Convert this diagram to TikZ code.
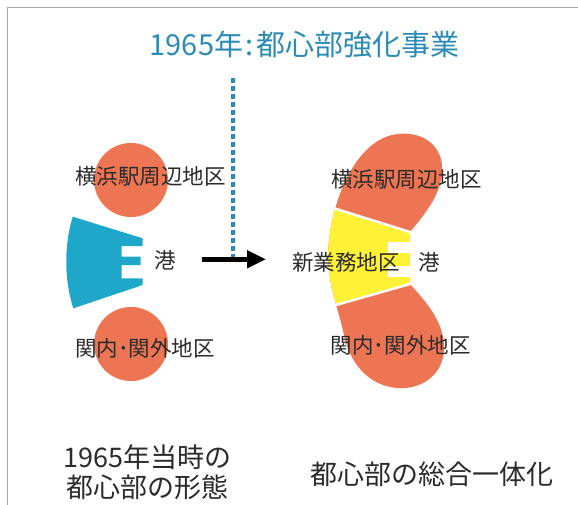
\documentclass[tikz,border=0pt]{standalone}
\usepackage{fontspec}
\setmainfont{Noto Sans CJK JP}
\usetikzlibrary{arrows.meta}
\definecolor{orng}{HTML}{EE7553}
\definecolor{portblue}{HTML}{1EA7C8}
\definecolor{titleblue}{HTML}{2B8BB4}
\definecolor{yel}{HTML}{FFF136}
\definecolor{txt}{HTML}{2B2B2B}
\begin{document}
\begin{tikzpicture}[x=1pt,y=-1pt,
  lbl/.style={inner sep=0, text=txt, font=\fontsize{21.5}{24}\selectfont},
  big/.style={inner sep=0, text=txt, font=\fontsize{27}{30}\selectfont, align=center},
  blob/.style={circle, fill=orng, minimum size=74pt, inner sep=0},
  conn/.style={line width=4.7pt, -{Triangle[length=19pt,width=17pt]}},
  guide/.style={titleblue, line width=3.3pt, dash pattern=on 5pt off 3pt},
  divider/.style={white, line width=2.5pt}
 ]
\useasboundingbox (0,0) rectangle (578,505);
\draw[gray!70, line width=1.5pt] (7.5,505) -- (7.5,7.5) -- (578,7.5);

% title
\node[inner sep=0, text=titleblue, font=\fontsize{29}{33}\selectfont] (title) at (304.5,45) {1965年\kern2pt:\kern3pt都心部強化事業};

% left: 1965 situation
\node[blob] (yokoL) at (131,180) {};
\node[blob] (kanL) at (131,344) {};
\fill[portblue] (72.7,216.7) -- (142.7,238.3) -- (142.7,246) -- (121.7,246) -- (121.7,256.7)
  -- (140.7,256.7) -- (140.7,265) -- (121.7,265) -- (121.7,278.3) -- (142.7,278.3)
  -- (142.7,285) -- (73.3,308.3) .. controls (64,280) and (64,245) .. (72.7,216.7) -- cycle;
\node[lbl] (lyoko) at (150.5,176) {横浜駅周辺地区};
\node[lbl] (lport) at (165,260) {港};
\node[lbl] (lkan) at (145,348) {関内･関外地区};

% right: integrated centre
\def\beanpath{(398,134)
 .. controls (425,131) and (444,148) .. (442,172)
 .. controls (441,195) and (424,215) .. (410,232)
 -- (410,284)
 .. controls (424,300) and (444,320) .. (444,348)
 .. controls (444,374) and (422,390) .. (397,388)
 .. controls (372,386) and (353,368) .. (345,340)
 .. controls (340,313) and (329,290) .. (328,258)
 .. controls (328,228) and (337,195) .. (350,172)
 .. controls (362,151) and (378,136) .. (398,134) -- cycle}
\fill[orng] \beanpath;
\begin{scope}
  \clip \beanpath;
  \fill[yel] (300,197.7) -- (420,235) -- (420,281) -- (300,315) -- cycle;
\end{scope}
\fill[white] (388,242) rectangle (416,253);
\fill[white] (388,266) rectangle (416,277);
\draw[divider] (325,205.5) -- (416,233.9);
\draw[divider] (325,308.1) -- (416,282.3);
\node[lbl] (ryoko) at (406.7,179) {横浜駅周辺地区};
\node[lbl] (rnew) at (345.8,262.5) {新業務地区};
\node[lbl] (rport) at (429,262) {港};
\node[lbl] (rkan) at (400.8,345.5) {関内･関外地区};

% arrow and guide
\coordinate (astart) at (201.7,259.3);
\coordinate (aend) at (266,259.3);
\coordinate (gtop) at (233,78);
\coordinate (gbot) at (233,257);
\draw[guide] (gtop) -- (gbot);
\draw[conn] (astart) -- (aend);

% captions
\node[big] (capL) at (147.5,472) {1965年当時の\\都心部の形態};
\node[big] (capR) at (432,474) {都心部の総合一体化};
\end{tikzpicture}
\end{document}
